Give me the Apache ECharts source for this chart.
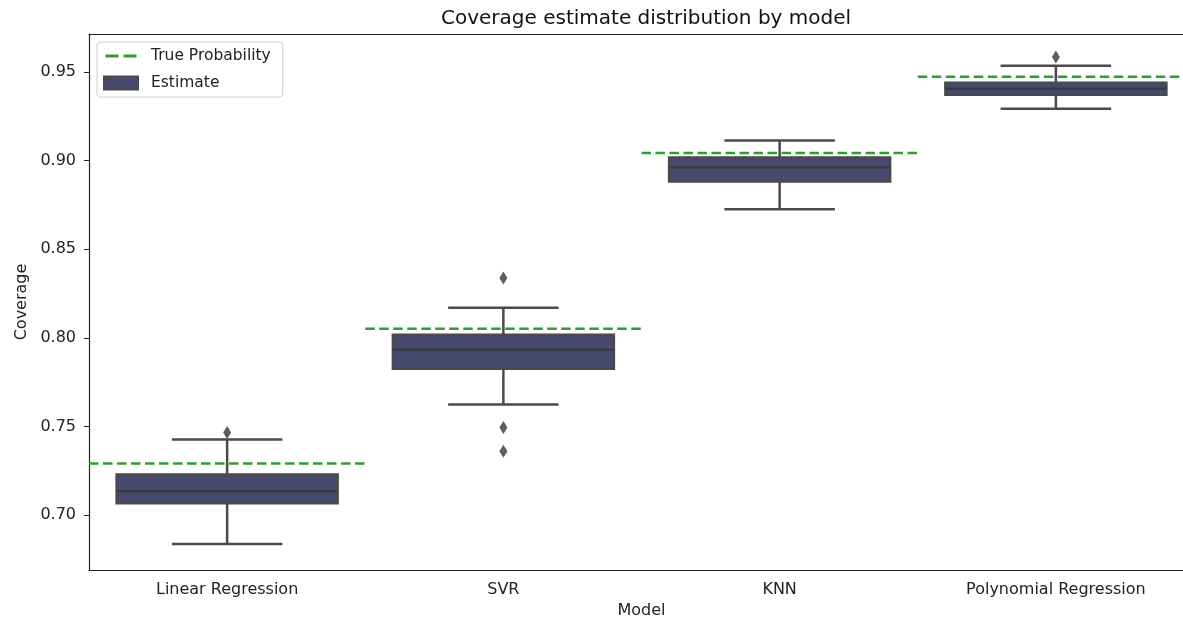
<!DOCTYPE html>
<html>
<head>
<meta charset="utf-8">
<script src="https://cdn.jsdelivr.net/npm/echarts@6/dist/echarts.min.js"></script>
<style>
  html, body { margin: 0; padding: 0; background: #fff; overflow: hidden; }
  #main { width: 1194px; height: 624px; }
</style>
</head>
<body>
<div id="main"></div>
<script>
// 数据
var categories = ['Linear Regression', 'SVR', 'KNN', 'Polynomial Regression']
var whiskerLow = [0.6837, 0.7624, 0.8725, 0.9292]
var q1 = [0.7067, 0.7826, 0.8882, 0.9371]
var median = [0.7135, 0.7933, 0.8961, 0.9404]
var q3 = [0.7230, 0.8017, 0.9017, 0.9438]
var whiskerHigh = [0.7427, 0.8169, 0.9112, 0.9534]
var outliers = [[0, 0.7466], [1, 0.8337], [1, 0.7494], [1, 0.7360], [3, 0.9584]]
var trueProb = [0.7292, 0.8051, 0.9042, 0.9472]
var yTicks = [0.70, 0.75, 0.80, 0.85, 0.90, 0.95]

var FONT = 'DejaVu Sans'
var LINE = '#4a4a4a'
// 图例虚线图标（上下两个极小点撑开高度）
var DASH_ICON = 'path://M0,0h0.01v0.01h-0.01z M0,5h13v3h-13z M18,5h13v3h-13z M31,13h0.01v0.01h-0.01z'

var boxData = categories.map(function (c, i) {
  return [i, whiskerLow[i], q1[i], median[i], q3[i], whiskerHigh[i]]
})

var series = [
  {
    name: 'Estimate',
    type: 'custom',
    xAxisIndex: 0,
    yAxisIndex: 0,
    itemStyle: { color: '#474a6e', borderColor: LINE, borderWidth: 1 },
    encode: { x: 0, y: [1, 2, 3, 4, 5] },
    renderItem: function (params, api) {
      var x = api.value(0)
      var lo = api.coord([x, api.value(1)])
      var b1 = api.coord([x, api.value(2)])
      var md = api.coord([x, api.value(3)])
      var b3 = api.coord([x, api.value(4)])
      var hi = api.coord([x, api.value(5)])
      var band = api.size([1, 0])[0]
      var bw = band * 0.8
      var cw = band * 0.4
      var cx = lo[0]
      var ls = { stroke: LINE, lineWidth: 2.5 }
      return {
        type: 'group',
        children: [
          { type: 'line', shape: { x1: cx, y1: b3[1], x2: cx, y2: hi[1] }, style: ls },
          { type: 'line', shape: { x1: cx, y1: b1[1], x2: cx, y2: lo[1] }, style: ls },
          { type: 'line', shape: { x1: cx - cw / 2, y1: hi[1], x2: cx + cw / 2, y2: hi[1] }, style: ls },
          { type: 'line', shape: { x1: cx - cw / 2, y1: lo[1], x2: cx + cw / 2, y2: lo[1] }, style: ls },
          {
            type: 'rect',
            shape: { x: cx - bw / 2, y: b3[1], width: bw, height: b1[1] - b3[1] },
            style: { fill: '#474a6e', stroke: LINE, lineWidth: 2.5 }
          },
          { type: 'line', shape: { x1: cx - bw / 2, y1: md[1], x2: cx + bw / 2, y2: md[1] }, style: { stroke: '#3a3a44', lineWidth: 2.5 } }
        ]
      }
    },
    data: boxData,
    z: 2
  },
  {
    name: 'Outliers',
    type: 'scatter',
    xAxisIndex: 0,
    yAxisIndex: 0,
    symbol: 'diamond',
    symbolSize: [8, 13],
    itemStyle: { color: '#333' },
    data: outliers,
    z: 3
  }
]

// 每个类别一段虚线
trueProb.forEach(function (p, i) {
  series.push({
    name: 'True Probability',
    type: 'line',
    xAxisIndex: 1,
    yAxisIndex: 0,
    symbol: 'none',
    color: '#2ca02c',
    lineStyle: { color: '#2ca02c', width: 2.5, type: [9.5, 4.5] },
    data: [[i, p], [i + 1, p]],
    z: 4,
    silent: true
  })
})

var myChart = echarts.init(document.getElementById('main'))
myChart.setOption({
  animation: false,
  title: {
    text: 'Coverage estimate distribution by model',
    left: 436,
    top: 4,
    textStyle: { fontFamily: FONT, fontSize: 20, fontWeight: 'normal', color: '#111' }
  },
  legend: {
    left: 97,
    top: 42,
    orient: 'vertical',
    padding: [6, 12, 6, 6],
    itemWidth: 34,
    itemHeight: 13,
    itemGap: 11,
    borderColor: '#d0d0d0',
    borderWidth: 1,
    borderRadius: 3,
    backgroundColor: '#fff',
    textStyle: { fontFamily: FONT, fontSize: 15.5, color: '#222', padding: [0, 0, 0, 8] },
    data: [
      { name: 'True Probability', icon: DASH_ICON },
      { name: 'Estimate', icon: 'rect' }
    ]
  },
  grid: {
    left: 89,
    right: 0,
    top: 34,
    bottom: 52
  },
  xAxis: [
    {
      type: 'category',
      data: categories,
      position: 'bottom',
      name: 'Model',
      nameLocation: 'middle',
      nameGap: 33,
      nameTextStyle: { fontFamily: FONT, fontSize: 16, color: '#222' },
      axisLine: { lineStyle: { color: '#222', width: 1.2 } },
      axisTick: { alignWithLabel: true, length: 5, lineStyle: { color: '#222' } },
      axisLabel: { fontFamily: FONT, fontSize: 16, color: '#222', margin: 12 },
      splitLine: { show: false }
    },
    {
      type: 'value',
      min: 0,
      max: 4,
      position: 'top',
      axisLine: { show: true, onZero: false, lineStyle: { color: '#222', width: 1.2 } },
      axisTick: { show: false },
      axisLabel: { show: false },
      splitLine: { show: false }
    }
  ],
  yAxis: {
    type: 'value',
    min: 0.6691,
    max: 0.9713,
    name: 'Coverage',
    nameLocation: 'middle',
    nameGap: 57,
    nameTextStyle: { fontFamily: FONT, fontSize: 16, color: '#222' },
    axisLine: { show: true, lineStyle: { color: '#222', width: 1.2 } },
    axisTick: { show: true, length: 5, customValues: yTicks, lineStyle: { color: '#222' } },
    axisLabel: {
      fontFamily: FONT,
      fontSize: 16,
      color: '#222',
      margin: 13,
      customValues: yTicks,
      formatter: function (v) { return v.toFixed(2) }
    },
    splitLine: { show: false }
  },
  series: series
})
</script>
</body>
</html>
